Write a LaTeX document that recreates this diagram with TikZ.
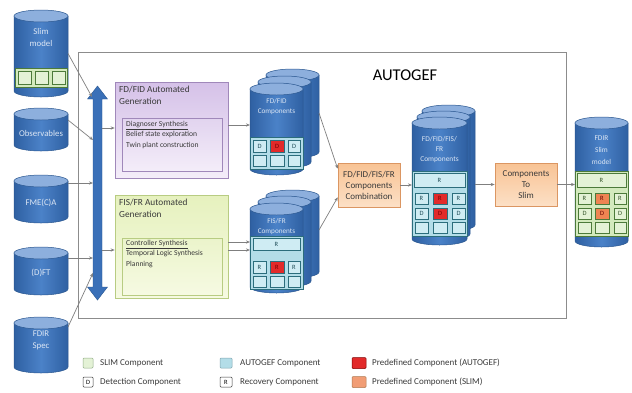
\documentclass[tikz,border=0pt]{standalone}
\usepackage{fontspec}
\setmainfont{Carlito}
\usetikzlibrary{arrows.meta}

\definecolor{drumdark}{HTML}{2F60A2}
\definecolor{drummid}{HTML}{4B82C8}
\definecolor{drumtopc}{HTML}{8DAFDD}
\definecolor{drumedge}{HTML}{2A5790}
\definecolor{drumtext}{HTML}{DCE6F4}
\definecolor{wire}{HTML}{7F7F7F}
\definecolor{frame}{HTML}{8C8C8C}
\definecolor{busblue}{HTML}{3A70B8}
\definecolor{tealreg}{HTML}{B3DDE8}
\definecolor{tealcell}{HTML}{CFECF3}
\definecolor{tealedge}{HTML}{2B6D7C}
\definecolor{greenreg}{HTML}{D3EABD}
\definecolor{greencell}{HTML}{E4F2D6}
\definecolor{greenedge}{HTML}{4C7A3A}
\definecolor{redcell}{HTML}{E22A2A}
\definecolor{orangecell}{HTML}{EE8452}
\definecolor{lavtop}{HTML}{D5C1E8}
\definecolor{lavbot}{HTML}{F4EDF9}
\definecolor{lavedge}{HTML}{A088BA}
\definecolor{limetop}{HTML}{E6F1BE}
\definecolor{limebot}{HTML}{F6FAE2}
\definecolor{limeedge}{HTML}{B8CC82}
\definecolor{peachtop}{HTML}{F8C394}
\definecolor{peachbot}{HTML}{FCE0C6}
\definecolor{peachedge}{HTML}{DB9662}
\definecolor{inktext}{HTML}{3A3A3A}

\tikzset{
  drumbody/.style={left color=drumdark,right color=drumdark,middle color=drummid,draw=drumedge,line width=0.5pt},
  drumcap/.style={fill=drumtopc,draw=drumedge,line width=0.5pt},
  drumframe/.style={rectangle,draw=none,inner sep=0pt,outer sep=0pt},
  drumlabel/.style={text=drumtext,align=center,font=\fontsize{8.8}{12}\selectfont},
  stacklabel/.style={text=drumtext,align=center,font=\fontsize{7.2}{10}\selectfont},
  wirearrow/.style={draw=wire,line width=0.7pt,-{Stealth[length=4pt,width=3.2pt]}},
  cellbase/.style={rectangle,inner sep=0pt,outer sep=0pt,line width=0.5pt,font=\fontsize{6.5}{6.5}\selectfont},
  tcell/.style={cellbase,fill=tealcell,draw=tealedge,text=tealedge!70!black},
  rcell/.style={cellbase,fill=redcell,draw=tealedge,text=red!45!black},
  gcell/.style={cellbase,fill=greencell,draw=greenedge,text=greenedge!70!black},
  ocell/.style={cellbase,fill=orangecell,draw=greenedge,text=red!40!black},
  treg/.style={fill=tealreg,draw=tealedge,line width=0.5pt},
  greg/.style={fill=greenreg,draw=greenedge,line width=0.5pt},
  boxtitle/.style={anchor=north west,align=left,text=inktext,font=\fontsize{9.3}{11.5}\selectfont,inner sep=0pt},
  boxbody/.style={anchor=north west,align=left,text=inktext,font=\fontsize{7.6}{10.4}\selectfont,inner sep=0pt},
  stepbox/.style={rectangle,draw=peachedge,top color=peachtop,bottom color=peachbot,line width=0.6pt,
    align=center,text=inktext,font=\fontsize{9}{11}\selectfont,inner sep=0pt},
  legendtext/.style={anchor=west,text=inktext,font=\fontsize{9}{10}\selectfont,inner sep=0pt},
  legendkey/.style={rectangle,inner sep=0pt,outer sep=0pt,line width=0.5pt,rounded corners=1pt,font=\fontsize{6.5}{6.5}\selectfont}
}

% database drum: name, left x, top y, width, height
\newcommand\drum[5]{%
  \pgfmathsetmacro\drumR{#2+#4}%
  \pgfmathsetmacro\drumC{#2+#4/2}%
  \pgfmathsetmacro\drumRx{#4/2}%
  \pgfmathsetmacro\drumT{#3+6}%
  \pgfmathsetmacro\drumB{#3+#5-6}%
  \pgfmathsetmacro\drumM{#3+#5/2}%
  \path[drumbody] (#2,\drumT) -- (#2,\drumB)
     arc[start angle=180,end angle=0,x radius=\drumRx,y radius=6] -- (\drumR,\drumT) -- cycle;
  \path[drumcap] (\drumC,\drumT) ellipse[x radius=\drumRx,y radius=6];
  \node[drumframe,minimum width=#4,minimum height=#5] (#1) at (\drumC,\drumM) {};
}

% table cell: name, x1, y1, x2, y2, style, text
\newcommand\cellbox[7]{%
  \node[#6,minimum width={#4-#2},minimum height={#5-#3}] (#1) at ({(#2+#4)/2},{(#3+#5)/2}) {#7};
}

\begin{document}
\begin{tikzpicture}[x=1pt,y=-1pt]
\useasboundingbox (0,0) rectangle (632,392);
\fill[white] (0,0) rectangle (632,392);

% AUTOGEF frame
\draw[frame,line width=0.8pt] (78,52) rectangle (566,318);
\node[text=black,font=\fontsize{16.5}{18}\selectfont,inner sep=0pt] (title) at (405,75) {AUTOGEF};

% input models on the left
\drum{slim}{14}{10}{54}{87}
\path[greg] (15,68) rectangle (67,87);
\cellbox{s1}{18}{71}{31}{84}{gcell}{}
\cellbox{s2}{35}{71}{48}{84}{gcell}{}
\cellbox{s3}{52}{71}{65}{84}{gcell}{}
\node[drumlabel] (slimtxt) at (41,37) {Slim\\model};

\drum{obs}{14}{108}{54}{43}
\node[drumlabel] (obstxt) at (41,133) {Observables};
\drum{fmeca}{14}{175}{54}{48}
\node[drumlabel] (fmecatxt) at (41,203) {FME(C)A};
\drum{dft}{14}{247}{54}{48}
\node[drumlabel] (dfttxt) at (41,273) {(D)FT};
\drum{spec}{14}{317}{54}{56}
\node[drumlabel] (spectxt) at (41,340) {FDIR\\Spec};

% shared input bus (double-headed arrow)
\fill[busblue,draw=drumedge,line width=0.4pt]
  (97.5,86) -- (107.5,99) -- (102,99) -- (102,287) -- (107.5,287) -- (97.5,300)
  -- (87.5,287) -- (93,287) -- (93,99) -- (87.5,99) -- cycle;
\coordinate (b1) at (92,97);
\coordinate (b2) at (93,140);
\coordinate (b3) at (93,183);
\coordinate (b4) at (93,258);
\coordinate (b5) at (93,273);
\coordinate (bo1) at (102,128);
\coordinate (bo2) at (102,250);

\draw[wirearrow] (slim.east) -- (b1);
\draw[wirearrow] ([yshift=-12pt]obs.north east) -- (b2);
\draw[wirearrow] ([yshift=-8pt]fmeca.north east) -- (b3);
\draw[wirearrow] ([yshift=-11pt]dft.north east) -- (b4);
\draw[wirearrow] ([yshift=-10pt]spec.north east) -- (b5);

% FD/FID generation block
\node[rectangle,draw=lavedge,top color=lavtop,bottom color=lavbot,line width=0.6pt,
      minimum width=113,minimum height=96,inner sep=0pt] (fdgen) at (171.5,130) {};
\node[boxtitle] (fdgentitle) at (119,86) {FD/FID Automated\\Generation};
\node[rectangle,draw=lavedge,top color=lavtop!70!white,bottom color=lavbot,line width=0.5pt,
      minimum width=100,minimum height=53,inner sep=0pt] (diag) at (172,144.5) {};
\node[boxbody] (diagtxt) at (126,121) {\underline{Diagnoser Synthesis}\\Belief state exploration\\Twin plant construction};

% FIS/FR generation block
\node[rectangle,draw=limeedge,top color=limetop,bottom color=limebot,line width=0.6pt,
      minimum width=113,minimum height=103,inner sep=0pt] (frgen) at (171.5,246.5) {};
\node[boxtitle] (frgentitle) at (119,199) {FIS/FR Automated\\Generation};
\node[rectangle,draw=limeedge,top color=limetop!80!white,bottom color=limebot,line width=0.5pt,
      minimum width=100,minimum height=57,inner sep=0pt] (ctrl) at (172,266.5) {};
\node[boxbody] (ctrltxt) at (126,240) {\underline{Controller Synthesis}\\Temporal Logic Synthesis\\Planning};

\draw[wirearrow] (bo1) -- (fdgen.west |- bo1);
\draw[wirearrow] (bo2) -- (frgen.west |- bo2);

% FD/FID component stack
\drum{fdb2}{266}{69}{53}{89}
\drum{fdb1}{258}{76}{53}{92}
\drum{fdc}{250}{83}{53}{92}
\node[stacklabel] (fdctxt) at (276.5,107) {FD/FID\\Components};
\path[treg] (250,137) rectangle (303,169);
\cellbox{fd1}{253}{140}{266}{152}{tcell}{D}
\cellbox{fd2}{270}{140}{284}{152}{rcell}{D}
\cellbox{fd3}{288}{140}{300}{152}{tcell}{D}
\cellbox{fd4}{253}{155}{266}{166}{tcell}{}
\cellbox{fd5}{270}{155}{284}{166}{tcell}{}
\cellbox{fd6}{288}{155}{300}{166}{tcell}{}

% FIS/FR component stack
\drum{frb2}{266}{190}{53}{88}
\drum{frb1}{258}{196}{53}{91}
\drum{frc}{250}{203}{53}{90}
\node[stacklabel] (frctxt) at (276.5,227) {FIS/FR\\Components};
\path[treg] (250,236) rectangle (303,289);
\cellbox{fr0}{253}{238}{300}{250}{tcell}{R}
\cellbox{fr1}{253}{261}{266}{273}{tcell}{R}
\cellbox{fr2}{270}{261}{284}{273}{rcell}{R}
\cellbox{fr3}{288}{261}{300}{273}{tcell}{R}
\cellbox{fr4}{253}{276}{266}{287}{tcell}{}
\cellbox{fr5}{270}{276}{284}{287}{tcell}{}
\cellbox{fr6}{288}{276}{300}{287}{tcell}{}

\draw[wirearrow] (fdgen.east |- 0,125) -- (fdc.west |- 0,125);
\draw[wirearrow] (frgen.east |- 0,242) -- (frc.west |- 0,242);
\draw[wirearrow] (frgen.east |- 0,250) -- (frc.west |- 0,250);

% combination step
\node[stepbox,minimum width=62,minimum height=44] (comb) at (369,185) {FD/FID/FIS/FR\\Components\\Combination};
\draw[wirearrow] (fdb2.east |- 0,113) -- ([yshift=-6pt]comb.north west);
\draw[wirearrow] (frb2.east |- 0,230) -- ([yshift=10pt]comb.south west);

% combined component stack
\drum{allb2}{422}{105}{53}{126}
\drum{allb1}{417}{111}{53}{129}
\drum{allc}{412}{117}{55}{128}
\node[stacklabel,font=\fontsize{7.4}{10}\selectfont] (allctxt) at (439.5,150) {FD/FID/FIS/\\FR\\Components};
\path[treg] (412,171) rectangle (467,236);
\cellbox{al0}{414}{173}{465}{187}{tcell}{R}
\cellbox{al1}{415}{193}{428}{204}{tcell}{R}
\cellbox{al2}{433}{193}{447}{204}{rcell}{R}
\cellbox{al3}{452}{193}{465}{204}{tcell}{R}
\cellbox{al4}{415}{208}{428}{219}{tcell}{D}
\cellbox{al5}{433}{208}{447}{219}{rcell}{D}
\cellbox{al6}{452}{208}{465}{219}{tcell}{D}
\cellbox{al7}{415}{222}{428}{233}{tcell}{}
\cellbox{al8}{433}{222}{447}{233}{tcell}{}
\cellbox{al9}{452}{222}{465}{233}{tcell}{}

\draw[wirearrow] (comb.east) -- (allc.west |- comb.east);

% translation step
\node[stepbox,minimum width=62,minimum height=43] (toslim) at (526,184.5) {Components\\To\\Slim};
\draw[wirearrow] (allb2.east |- toslim.west) -- (toslim.west);

% resulting FDIR model
\drum{fdir}{575}{117}{53}{130}
\node[drumlabel,font=\fontsize{7.4}{12}\selectfont] (fdirtxt) at (601.5,150) {FDIR\\Slim\\model};
\path[greg] (575,171) rectangle (628,236);
\cellbox{sm0}{577}{173}{626}{187}{gcell}{R}
\cellbox{sm1}{578}{193}{591}{204}{gcell}{R}
\cellbox{sm2}{595}{193}{609}{204}{ocell}{R}
\cellbox{sm3}{614}{193}{626}{204}{gcell}{R}
\cellbox{sm4}{578}{208}{591}{219}{gcell}{D}
\cellbox{sm5}{595}{208}{609}{219}{ocell}{D}
\cellbox{sm6}{614}{208}{626}{219}{gcell}{D}
\cellbox{sm7}{578}{222}{591}{233}{gcell}{}
\cellbox{sm8}{595}{222}{609}{233}{gcell}{}
\cellbox{sm9}{614}{222}{626}{233}{gcell}{}

\draw[wirearrow] (toslim.east) -- (fdir.west |- toslim.east);

% legend
\node[legendkey,fill=greencell,draw=greenedge!60!white,minimum width=10,minimum height=10] (kslim) at (88,363) {};
\node[legendtext] (lslim) at (100,363) {SLIM Component};
\node[legendkey,fill=white,draw=inktext,minimum width=10,minimum height=10] (kdet) at (88,382) {D};
\node[legendtext] (ldet) at (100,382) {Detection Component};
\node[legendkey,fill=tealreg,draw=tealedge!60!white,minimum width=12,minimum height=10] (kauto) at (226,363) {};
\node[legendtext] (lauto) at (240,363) {AUTOGEF Component};
\node[legendkey,fill=white,draw=inktext,minimum width=12,minimum height=10] (krec) at (226,382) {R};
\node[legendtext] (lrec) at (240,382) {Recovery Component};
\node[legendkey,fill=redcell,draw=red!50!black,minimum width=14,minimum height=11] (kpa) at (359,363) {};
\node[legendtext] (lpa) at (372,363) {Predefined Component (AUTOGEF)};
\node[legendkey,fill=orangecell!80!white,draw=peachedge!80!black,minimum width=14,minimum height=11] (kps) at (359,382) {};
\node[legendtext] (lps) at (372,382) {Predefined Component (SLIM)};
\end{tikzpicture}
\end{document}
